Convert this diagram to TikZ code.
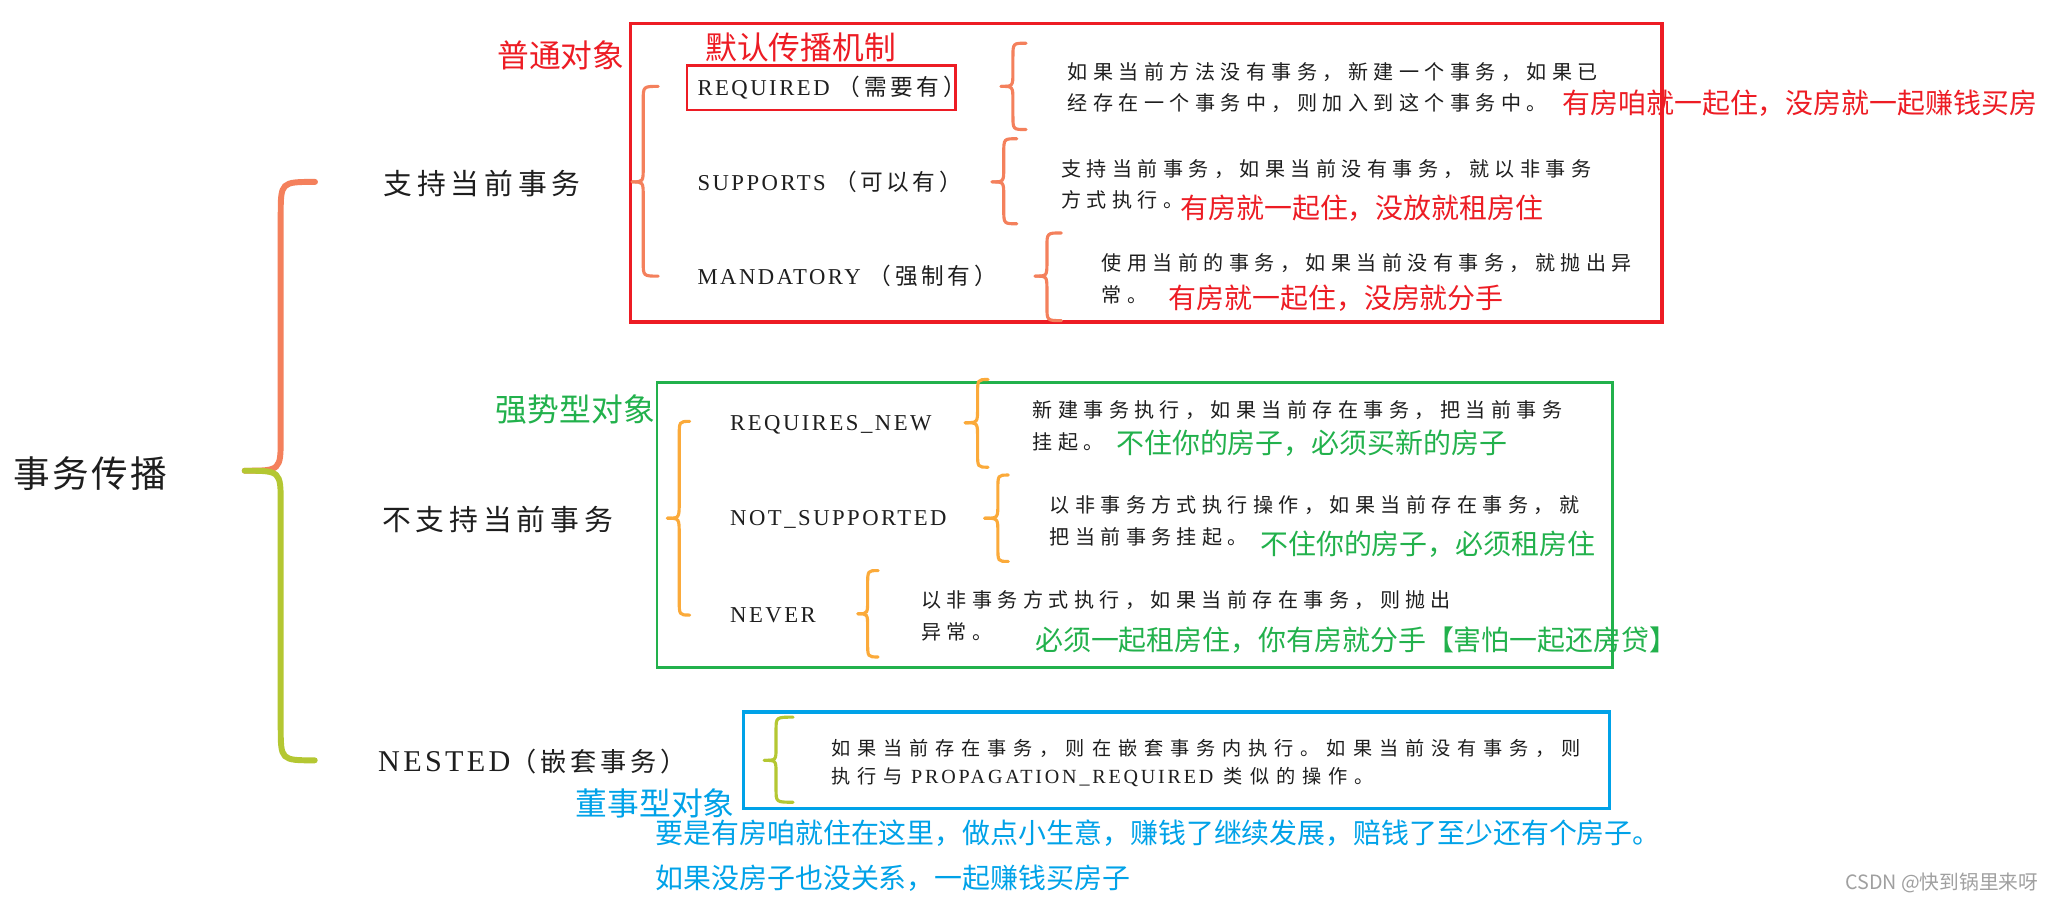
\documentclass[tikz,border=0pt]{standalone}
\usepackage{fontspec}
\setmainfont{Liberation Serif}
\newfontfamily\annfont{Noto Sans CJK SC}
\newfontfamily\fangD[LetterSpace=27]{Noto Sans CJK SC}
\newfontfamily\fangN[LetterSpace=36]{Noto Sans CJK SC}
\newfontfamily\fangL[LetterSpace=16]{Noto Sans CJK SC}
\newfontfamily\fangNL[LetterSpace=15]{Noto Sans CJK SC}
\newfontfamily\kaiH[LetterSpace=17]{Noto Sans CJK SC}
\newfontfamily\kaiR[LetterSpace=7]{Noto Sans CJK SC}
\newfontfamily\serL[LetterSpace=11]{Liberation Serif}
\newfontfamily\serN[LetterSpace=11]{Liberation Serif}
\newfontfamily\serD[LetterSpace=14]{Liberation Serif}
\definecolor{rd}{HTML}{ED1C24}
\definecolor{gn}{HTML}{22B14C}
\definecolor{bl}{HTML}{00A2E8}
\definecolor{coral}{HTML}{F4805C}
\definecolor{ygreen}{HTML}{B4C732}
\definecolor{orng}{HTML}{FBAA3A}
\definecolor{wm}{HTML}{A0A0A0}
\definecolor{ink}{HTML}{1E1E1E}
\newcommand\labCJK[1]{{\fangL\fontsize{13}{15}\selectfont #1}}
% half brace: style, x of end, x of vertical, x of tip, y of end, y of tip, radius (signed)
\newcommand\hbr[7]{\draw[#1] (#2,-#5) .. controls (#3,-#5) .. (#3,{-(#5+(#7))}) -- (#3,{-(#6-(#7))}) .. controls (#3,-#6) .. (#4,-#6);}
\begin{document}
\begin{tikzpicture}[x=0.75pt,y=0.75pt,
  every node/.style={inner sep=0pt,outer sep=0pt},
  head/.style={anchor=west,ink,font=\kaiH\fontsize{16.5}{20}\selectfont},
  lab/.style={anchor=west,ink,font=\serL\fontsize{13}{15}\selectfont},
  desc/.style={anchor=west,ink,align=left,font=\fangD\fontsize{11.5}{18}\selectfont},
  descN/.style={anchor=west,ink,align=left,font=\fangN\fontsize{11}{16.5}\selectfont},
  ann/.style={anchor=west,font=\annfont\fontsize{16}{19}\selectfont},
  tagt/.style={anchor=west,font=\annfont\fontsize{18.2}{22}\selectfont},
  bigbr/.style={line width=3.4pt,line cap=round},
  smbr/.style={line width=1.8pt,line cap=round},
  boxr/.style={line width=1.8pt}]
\fill[white] (0,0) rectangle (1568,-692);
\useasboundingbox (0,0) rectangle (1568,-692);

% frames
\draw[boxr,rd] (482,-18) rectangle (1270,-246);
\draw[line width=1.6pt,rd] (525,-50) rectangle (730,-84);
\draw[line width=1.6pt,gn] (502,-292) rectangle (1232,-510);
\draw[line width=1.9pt,bl] (568,-544) rectangle (1230,-618);

% main tree
\node[anchor=west,ink,font=\kaiR\fontsize{21}{24}\selectfont] (root) at (10,-362) {事务传播};
\hbr{bigbr,coral}{240.7}{214.5}{187}{139}{359.7}{26}
\hbr{bigbr,ygreen}{240.5}{214.5}{187}{581}{359.7}{-26}
\node[head] (sup) at (293,-140) {支持当前事务};
\node[head] (nsup) at (292,-397) {不支持当前事务};
\node[anchor=west,ink] (nest) at (289,-582) {{\serN\fontsize{17.3}{20}\selectfont NESTED}{\fangNL\fontsize{15}{20}\selectfont （嵌套事务）}};

% supports current transaction
\hbr{smbr,coral}{503}{491.5}{483}{66}{139}{11}
\hbr{smbr,coral}{503}{491.5}{483}{211}{139}{-11}
\node[lab] (req) at (533,-67) {REQUIRED \labCJK{（需要有）}};
\node[lab] (sups) at (533,-139) {SUPPORTS \labCJK{（可以有）}};
\node[lab] (mand) at (533,-211) {MANDATORY \labCJK{（强制有）}};

\hbr{smbr,coral}{784}{774}{765}{33}{66}{11}
\hbr{smbr,coral}{784}{774}{765}{99}{66}{-11}
\hbr{smbr,coral}{777}{767}{758}{106}{139}{11}
\hbr{smbr,coral}{777}{767}{758}{171}{139}{-11}
\hbr{smbr,coral}{811}{800}{791}{178}{211}{11}
\hbr{smbr,coral}{811}{800}{791}{245}{211}{-11}

\node[desc] (d1) at (816,-67) {如果当前方法没有事务，新建一个事务，如果已\\经存在一个事务中，则加入到这个事务中。};
\node[desc] (d2) at (811,-141) {支持当前事务，如果当前没有事务，就以非事务\\方式执行。};
\node[desc] (d3) at (842,-213) {使用当前的事务，如果当前没有事务，就抛出异\\常。};

% not supporting current transaction
\hbr{smbr,orng}{527}{519}{510}{322}{396}{12}
\hbr{smbr,orng}{527}{519}{510}{470}{396}{-12}
\node[lab] (reqn) at (558,-325) {REQUIRES\_NEW};
\node[lab] (nots) at (558,-397) {NOT\_SUPPORTED};
\node[lab] (never) at (558,-470) {NEVER};

\hbr{smbr,orng}{755}{747}{737.5}{290}{323}{11}
\hbr{smbr,orng}{755}{747}{737.5}{357}{323}{-11}
\hbr{smbr,orng}{770.5}{762.5}{752.5}{363}{396}{11}
\hbr{smbr,orng}{770.5}{762.5}{752.5}{429}{396}{-11}
\hbr{smbr,orng}{671}{663}{655.5}{436}{469}{11}
\hbr{smbr,orng}{671}{663}{655.5}{502}{469}{-11}

\node[desc] (dA) at (789,-325.5) {新建事务执行，如果当前存在事务，把当前事务\\挂起。};
\node[desc] (dB) at (802,-398) {以非事务方式执行操作，如果当前存在事务，就\\把当前事务挂起。};
\node[desc] (dC) at (704,-470.5) {以非事务方式执行，如果当前存在事务，则抛出\\异常。};

% nested
\hbr{smbr,ygreen}{606}{593}{584}{548}{581}{10}
\hbr{smbr,ygreen}{606}{593}{584}{613}{581}{-10}
\node[descN] (dN) at (635,-583) {如果当前存在事务，则在嵌套事务内执行。如果当前没有事务，则\\执行与\hspace{5pt}{\serD\fontsize{11.5}{16.5}\selectfont PROPAGATION\_REQUIRED}\hspace{6pt}类似的操作。};

% annotations
\node[tagt,rd] (t1) at (380,-42) {普通对象};
\node[tagt,rd] (t2) at (539,-36) {默认传播机制};
\node[tagt,gn] (t3) at (379,-313) {强势型对象};
\node[tagt,bl] (t4) at (440,-614) {董事型对象};

\node[ann,rd] (a1) at (1194,-79) {有房咱就一起住，没房就一起赚钱买房};
\node[ann,rd] (a2) at (902,-159) {有房就一起住，没放就租房住};
\node[ann,rd] (a3) at (893,-228) {有房就一起住，没房就分手};
\node[ann,gn] (aA) at (853,-339) {不住你的房子，必须买新的房子};
\node[ann,gn] (aB) at (963,-416) {不住你的房子，必须租房住};
\node[ann,gn] (aC) at (791,-489) {必须一起租房住，你有房就分手【害怕一起还房贷】};
\node[ann,bl] (aN1) at (501,-637) {要是有房咱就住在这里，做点小生意，赚钱了继续发展，赔钱了至少还有个房子。};
\node[ann,bl] (aN2) at (501,-671) {如果没房子也没关系，一起赚钱买房子};

\node[anchor=west,wm,font=\annfont\fontsize{11.3}{13}\selectfont] (csdn) at (1410,-675) {CSDN @快到锅里来呀};
\end{tikzpicture}
\end{document}
